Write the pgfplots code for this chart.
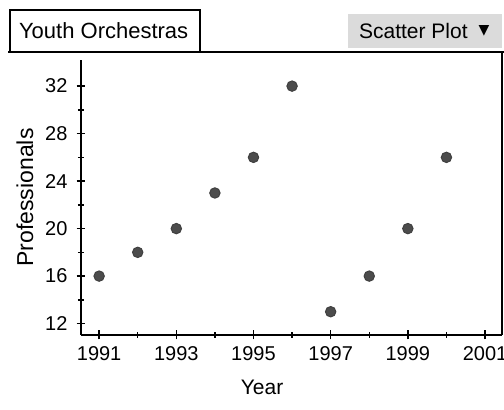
\documentclass[border=0pt]{standalone}
\usepackage{pgfplots}
\pgfplotsset{compat=1.18}
\usepackage{fontspec}
\setmainfont{Liberation Sans}
\newfontfamily\symfont{DejaVu Sans}

\begin{document}
\begin{tikzpicture}
\path[use as bounding box] (0,0) rectangle (252pt,205pt);
% header
\draw[line width=0.9pt] (5pt,179pt) rectangle (100pt,200pt);
\node[anchor=west, font=\fontsize{11}{13}\selectfont] at (6pt,189.5pt) {Youth Orchestras};
\fill[gray!28] (174pt,181pt) rectangle (251pt,198pt);
\node[anchor=west, font=\fontsize{10.5}{12}\selectfont] at (176pt,189.5pt) {Scatter Plot};
\node[font=\symfont\fontsize{7}{8}\selectfont] at (242pt,189.5pt) {▼};
\draw[line width=0.9pt] (4pt,179pt) -- (252pt,179pt);
\draw[line width=1pt] (251pt,37.5pt) -- (251pt,179pt);

\begin{axis}[
  at={(40.5pt,37.5pt)}, anchor=south west,
  scale only axis,
  width=210.5pt, height=137.5pt,
  xmin=1990.53, xmax=2001.44,
  ymin=11.04, ymax=34.2,
  axis x line=bottom, axis y line=left,
  axis line style={line width=1pt, -},
  xtick={1991,1993,...,2001},
  ytick={12,16,...,32},
  minor x tick num=1, minor y tick num=1,
  tick align=center,
  major tick length=4.5pt, minor tick length=3pt,
  tick style={line width=0.7pt, black},
  xticklabel style={/pgf/number format/1000 sep={}, font=\fontsize{10}{12}\selectfont},
  yticklabel style={font=\fontsize{10}{12}\selectfont, xshift=-1pt},
  /pgf/number format/assume math mode=true,
  xlabel={Year}, ylabel={Professionals},
  xlabel style={font=\fontsize{10.5}{12}\selectfont,
    at={(axis description cs:0.43,0)}, anchor=north, yshift=-19pt},
  ylabel style={font=\fontsize{11.5}{13}\selectfont, yshift=-1pt},
]
\addplot[only marks, mark=*, mark size=2.6pt,
  mark options={fill=gray!60!black, draw=black!75, line width=0.5pt}]
  coordinates {
  (1991,16) (1992,18) (1993,20) (1994,23) (1995,26)
  (1996,32) (1997,13) (1998,16) (1999,20) (2000,26)
  };
\end{axis}
\end{tikzpicture}
\end{document}
